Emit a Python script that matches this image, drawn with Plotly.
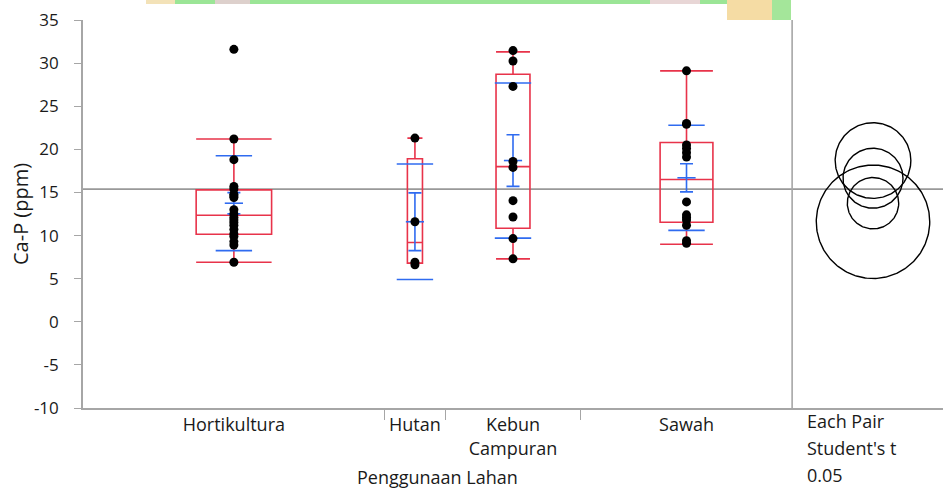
import numpy as np
import plotly.graph_objects as go

# ---------------- data ----------------
categories = ["Hortikultura", "Hutan", "Kebun Campuran", "Sawah"]
tick_labels = ["Hortikultura", "Hutan", "Kebun<br>Campuran", "Sawah"]
counts = [20, 4, 9, 14]

hortikultura = [31.6, 21.2, 18.8, 15.7, 15.4, 14.8, 14.6, 14.4, 13.0, 12.5,
                12.1, 11.8, 11.5, 11.2, 10.7, 10.2, 9.9, 9.3, 8.9, 6.9]
hutan = [21.3, 11.6, 6.9, 6.6]
kebun = [31.45, 30.25, 27.3, 18.6, 17.9, 14.05, 12.15, 9.65, 7.3]
sawah = [29.1, 23.0, 22.9, 20.5, 20.1, 19.6, 19.1, 13.9, 12.4, 12.1,
         11.8, 11.2, 9.4, 9.1]
values = [hortikultura, hutan, kebun, sawah]

# box plot statistics
q1 = [10.15, 6.8, 10.85, 11.55]
median = [12.35, 9.2, 18.0, 16.5]
q3 = [15.3, 18.9, 28.7, 20.8]
lower_whisker = [6.9, 6.8, 7.3, 9.0]
upper_whisker = [21.2, 21.3, 31.3, 29.1]

# means, std error, std dev
means = [13.75, 11.6, 18.7, 16.7]
std_err = [1.23, 3.35, 3.0, 1.63]
std_dev = [5.5, 6.7, 9.0, 6.1]

# comparison circles (Each Pair Student's t, 0.05)
circle_center = [13.75, 11.6, 18.7, 16.65]
circle_radius = [2.98, 6.58, 4.39, 3.48]

grand_mean = 15.38

y_tickvals = [-10, -5, 0, 5, 10, 15, 20, 25, 30, 35]
y_ticktext = ["-10", "-5", "0", "5", "10", "15", "20", "25", "30", "35"]

# ---------------- layout constants ----------------
W, H = 943, 488
ML, MR, MT, MB = 83, 0, 20, 80
Y_RANGE = [-10, 35]
N_TOTAL = sum(counts)
PANEL_UNITS = 10.0
X_RANGE = [0, N_TOTAL + PANEL_UNITS]

RED = "#E8334A"
BLUE = "#2F6BF0"
GRAY = "#a6a6a6"
TXT = "#1a1a1a"
FONT = "Open Sans"

bounds = np.concatenate([[0], np.cumsum(counts)])
centers = (bounds[:-1] + bounds[1:]) / 2.0
widths = np.array(counts, dtype=float)

px_per_x = (W - ML - MR) / (X_RANGE[1] - X_RANGE[0])
px_per_y = (H - MT - MB) / (Y_RANGE[1] - Y_RANGE[0])


def px2paper_x(px):
    return (px - ML) / (W - ML - MR)


def py2paper_y(py):
    return (H - MB - py) / (H - MT - MB)


fig = go.Figure()

# boxes
for i, c in enumerate(categories):
    fig.add_trace(go.Box(
        x=[centers[i]], q1=[q1[i]], median=[median[i]], q3=[q3[i]],
        lowerfence=[lower_whisker[i]], upperfence=[upper_whisker[i]],
        width=widths[i] * 0.25, whiskerwidth=1, boxpoints=False,
        line=dict(color=RED, width=1.6), fillcolor="rgba(0,0,0,0)",
        name=c, showlegend=False, hoverinfo="skip"))

# std dev lines
sd_x, sd_y = [], []
for i in range(len(categories)):
    sd_x += [centers[i], centers[i]]
    sd_y += [means[i] + std_dev[i], means[i] - std_dev[i]]
fig.add_trace(go.Scatter(
    x=sd_x, y=sd_y, mode="markers",
    marker=dict(symbol="line-ew", size=26, line=dict(color=BLUE, width=1.6)),
    showlegend=False, hoverinfo="skip"))

# mean error bars
fig.add_trace(go.Scatter(
    x=centers, y=means, mode="markers",
    marker=dict(symbol="line-ew", size=13, line=dict(color=BLUE, width=1.6)),
    error_y=dict(type="data", array=std_err, color=BLUE, thickness=1.6, width=6.5),
    showlegend=False, hoverinfo="skip"))

# points
for i, c in enumerate(categories):
    fig.add_trace(go.Scatter(
        x=[centers[i]] * len(values[i]), y=values[i], mode="markers",
        marker=dict(color="black", size=9),
        name=c, showlegend=False))

# comparison circles
cx = (873 - ML) / px_per_x
t = np.linspace(0, 2 * np.pi, 240)
for cc, rr in zip(circle_center, circle_radius):
    rx = rr * px_per_y / px_per_x
    fig.add_trace(go.Scatter(
        x=cx + rx * np.cos(t), y=cc + rr * np.sin(t), mode="lines",
        line=dict(color="black", width=1.4), showlegend=False, hoverinfo="skip"))

shapes = [
    dict(type="line", xref="x", yref="y", x0=X_RANGE[0], x1=X_RANGE[1],
         y0=grand_mean, y1=grand_mean, line=dict(color="#999999", width=1.6),
         layer="below"),
    dict(type="line", xref="x", yref="paper", x0=N_TOTAL, x1=N_TOTAL,
         y0=0, y1=1, line=dict(color=GRAY, width=1.6)),
]

# decorative strip at the very top (remnant in the reference image)
shapes += [
    dict(type="rect", xref="paper", yref="paper", x0=px2paper_x(146), x1=px2paper_x(790),
         y0=py2paper_y(4), y1=py2paper_y(0), fillcolor="#9be596", line=dict(width=0)),
    dict(type="rect", xref="paper", yref="paper", x0=px2paper_x(146), x1=px2paper_x(175),
         y0=py2paper_y(4), y1=py2paper_y(0), fillcolor="#f3e2b8", line=dict(width=0)),
    dict(type="rect", xref="paper", yref="paper", x0=px2paper_x(215), x1=px2paper_x(250),
         y0=py2paper_y(4), y1=py2paper_y(0), fillcolor="#ddd0cc", line=dict(width=0)),
    dict(type="rect", xref="paper", yref="paper", x0=px2paper_x(650), x1=px2paper_x(700),
         y0=py2paper_y(4), y1=py2paper_y(0), fillcolor="#e8d6d6", line=dict(width=0)),
    dict(type="rect", xref="paper", yref="paper", x0=px2paper_x(727), x1=px2paper_x(772),
         y0=py2paper_y(20), y1=py2paper_y(0), fillcolor="#f5dca4", line=dict(width=0)),
    dict(type="rect", xref="paper", yref="paper", x0=px2paper_x(772), x1=px2paper_x(791),
         y0=py2paper_y(20), y1=py2paper_y(0), fillcolor="#a4e69a", line=dict(width=0)),
]

annotations = [
    dict(text="Penggunaan Lahan", x=px2paper_x(437), y=py2paper_y(477),
         xref="paper", yref="paper", showarrow=False, xanchor="center", yanchor="middle",
         font=dict(family=FONT, size=18, color=TXT)),
    dict(text="Ca-P (ppm)", x=px2paper_x(20), y=py2paper_y(214), textangle=-90,
         xref="paper", yref="paper", showarrow=False, xanchor="center", yanchor="middle",
         font=dict(family=FONT, size=20, color=TXT)),
]
for k, txt in enumerate(["Each Pair", "Student's t", "0.05"]):
    annotations.append(dict(
        text=txt, x=px2paper_x(805), y=py2paper_y(421 + 27 * k),
        xref="paper", yref="paper", showarrow=False, xanchor="left", yanchor="middle",
        font=dict(family=FONT, size=18, color=TXT)))

fig.update_layout(
    width=W, height=H,
    margin=dict(l=ML, r=MR, t=MT, b=MB, pad=0),
    paper_bgcolor="white", plot_bgcolor="white",
    font=dict(family=FONT, size=18, color=TXT),
    shapes=shapes, annotations=annotations, showlegend=False,
    xaxis=dict(
        range=X_RANGE, showgrid=False, zeroline=False,
        showline=True, linecolor=GRAY, linewidth=1.6,
        tickmode="array", tickvals=list(centers), ticktext=tick_labels,
        ticks="", ticklabelstandoff=0,
        minor=dict(tickmode="array", tickvals=list(bounds[1:-1]), ticks="outside",
                   ticklen=10, tickcolor=GRAY, tickwidth=1.4),
        tickfont=dict(family=FONT, size=18, color=TXT),
    ),
    yaxis=dict(
        range=Y_RANGE, showgrid=False, zeroline=False,
        showline=True, linecolor=GRAY, linewidth=1.6,
        tickmode="array", tickvals=y_tickvals, ticktext=y_ticktext,
        ticks="outside", ticklen=7, tickcolor=GRAY, tickwidth=1.4,
        ticklabelstandoff=12,
        tickfont=dict(family=FONT, size=17, color=TXT),
    ),
)

fig.write_html("out.html")
